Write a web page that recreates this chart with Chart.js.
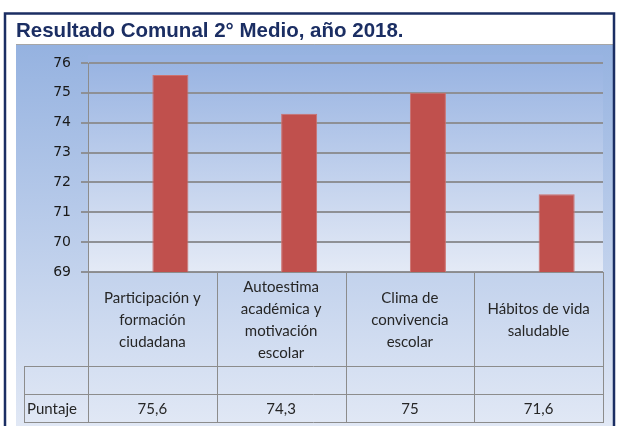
<!DOCTYPE html>
<html lang="es">
<head>
  <meta charset="UTF-8" />
  <title>Resultado Comunal 2° Medio, año 2018.</title>
  <script src="https://cdn.jsdelivr.net/npm/chart.js"></script>
  <style>
    html, body { margin: 0; padding: 0; background: #fff; overflow: hidden; }
    #wrap { width: 618px; height: 426px; }
  </style>
</head>
<body>
  <div id="wrap"><canvas id="chart" width="618" height="426"></canvas></div>

  <script>
    // data
    const categories = [
      ['Participación y', 'formación', 'ciudadana'],
      ['Autoestima', 'académica y', 'motivación', 'escolar'],
      ['Clima de', 'convivencia', 'escolar'],
      ['Hábitos de vida', 'saludable']
    ];
    const emptySeries = [null, null, null, null];   // the blank row of the table
    const puntaje = [75.6, 74.3, 75, 71.6];
    const seriesNames = ['', 'Puntaje'];
    const yTicks = [69, 70, 71, 72, 73, 74, 75, 76];

    const title = 'Resultado Comunal 2° Medio, año 2018.';
    const navy = '#1b2e63';
    const lineGray = '#8c8c8c';
    const tableFont = '15px Lato, "Open Sans", sans-serif';

    // table rows under the plot
    const headerBottom = 366;
    const blankBottom = 394;
    const tableBottom = 422;
    const labelColLeft = 24;

    const fmt = v => (v == null ? '' : String(v).replace('.', ','));

    const frame = {
      id: 'frame',
      beforeDraw(chart) {
        const c = chart.ctx;
        const a = chart.chartArea;
        c.save();
        c.fillStyle = '#fff';
        c.fillRect(0, 0, chart.width, chart.height);

        // outer blue panel
        let g = c.createLinearGradient(0, 44, 0, 426);
        g.addColorStop(0, '#95b2e0');
        g.addColorStop(1, '#e1e8f5');
        c.fillStyle = g;
        c.fillRect(16, 44, 597, 390);
        c.strokeStyle = '#a6a6a6';
        c.lineWidth = 1;
        c.beginPath();
        c.moveTo(16, 44.5);
        c.lineTo(613, 44.5);
        c.stroke();

        // plot area gradient
        g = c.createLinearGradient(0, a.top, 0, a.bottom);
        g.addColorStop(0, '#99b4e2');
        g.addColorStop(1, '#e4eaf6');
        c.fillStyle = g;
        c.fillRect(a.left, a.top - 8, a.right - a.left, a.bottom - a.top + 8);

        // navy frame
        c.strokeStyle = navy;
        c.lineWidth = 2.5;
        c.strokeRect(5, 13.5, 609, 440);

        // title
        c.fillStyle = navy;
        c.font = 'bold 20.5px "Liberation Sans", Arial, sans-serif';
        c.textBaseline = 'alphabetic';
        c.textAlign = 'left';
        c.fillText(title, 16, 37);
        c.restore();
      },
      afterDraw(chart) {
        const c = chart.ctx;
        const a = chart.chartArea;
        const x = chart.scales.x;
        const half = (a.right - a.left) / categories.length / 2;
        c.save();
        c.strokeStyle = lineGray;
        c.lineWidth = 1;
        c.beginPath();
        // horizontal lines
        c.moveTo(a.left, a.bottom + 0.5); c.lineTo(a.right, a.bottom + 0.5);
        [headerBottom, blankBottom, tableBottom].forEach(y => {
          c.moveTo(labelColLeft, y + 0.5); c.lineTo(a.right, y + 0.5);
        });
        // vertical lines
        for (let i = 0; i <= categories.length; i++) {
          const xx = Math.round(a.left + i * half * 2) + 0.5;
          c.moveTo(xx, a.bottom); c.lineTo(xx, tableBottom + 1);
        }
        c.moveTo(labelColLeft + 0.5, headerBottom); c.lineTo(labelColLeft + 0.5, tableBottom + 1);
        c.stroke();

        c.fillStyle = '#262626';
        c.font = tableFont;
        c.textAlign = 'center';
        c.textBaseline = 'middle';
        const mid = 320, lh = 22;
        categories.forEach((lines, i) => {
          const cx = x.getPixelForValue(i);
          lines.forEach((t, k) => {
            c.fillText(t, cx, mid + (k - (lines.length - 1) / 2) * lh);
          });
          c.fillText(fmt(emptySeries[i]), cx, (headerBottom + blankBottom) / 2);
          c.fillText(fmt(puntaje[i]), cx, (blankBottom + tableBottom) / 2 + 1);
        });
        c.textAlign = 'left';
        c.fillText(seriesNames[0], labelColLeft + 3, (headerBottom + blankBottom) / 2);
        c.fillText(seriesNames[1], labelColLeft + 3, (blankBottom + tableBottom) / 2 + 1);
        c.restore();
      }
    };

    new Chart(document.getElementById('chart'), {
      type: 'bar',
      data: {
        labels: categories,
        datasets: [
          {
            label: seriesNames[0],
            data: emptySeries,
            backgroundColor: '#4f81bd'
          },
          {
            label: seriesNames[1],
            data: puntaje,
            backgroundColor: '#c0504d',
            borderColor: '#cd716e',
            borderWidth: 1,
            borderSkipped: false
          }
        ]
      },
      options: {
        responsive: false,
        animation: false,
        devicePixelRatio: 1,
        categoryPercentage: 0.56,
        barPercentage: 1,
        layout: { padding: { left: 0, top: 63, right: 15, bottom: 154 } },
        plugins: {
          legend: { display: false },
          title: { display: false },
          tooltip: { enabled: false }
        },
        scales: {
          x: { display: false },
          y: {
            min: yTicks[0],
            max: yTicks[yTicks.length - 1],
            afterFit: s => { s.width = 88; },
            afterBuildTicks: s => { s.ticks = yTicks.map(v => ({ value: v })); },
            grid: { color: '#8e9095', lineWidth: 2, tickLength: 7, drawTicks: true },
            border: { display: true, color: lineGray, width: 1 },
            ticks: {
              padding: 10,
              color: '#1a1a1a',
              font: { family: '"DejaVu Sans", sans-serif', size: 14 }
            }
          }
        }
      },
      plugins: [frame]
    });
  </script>
</body>
</html>
